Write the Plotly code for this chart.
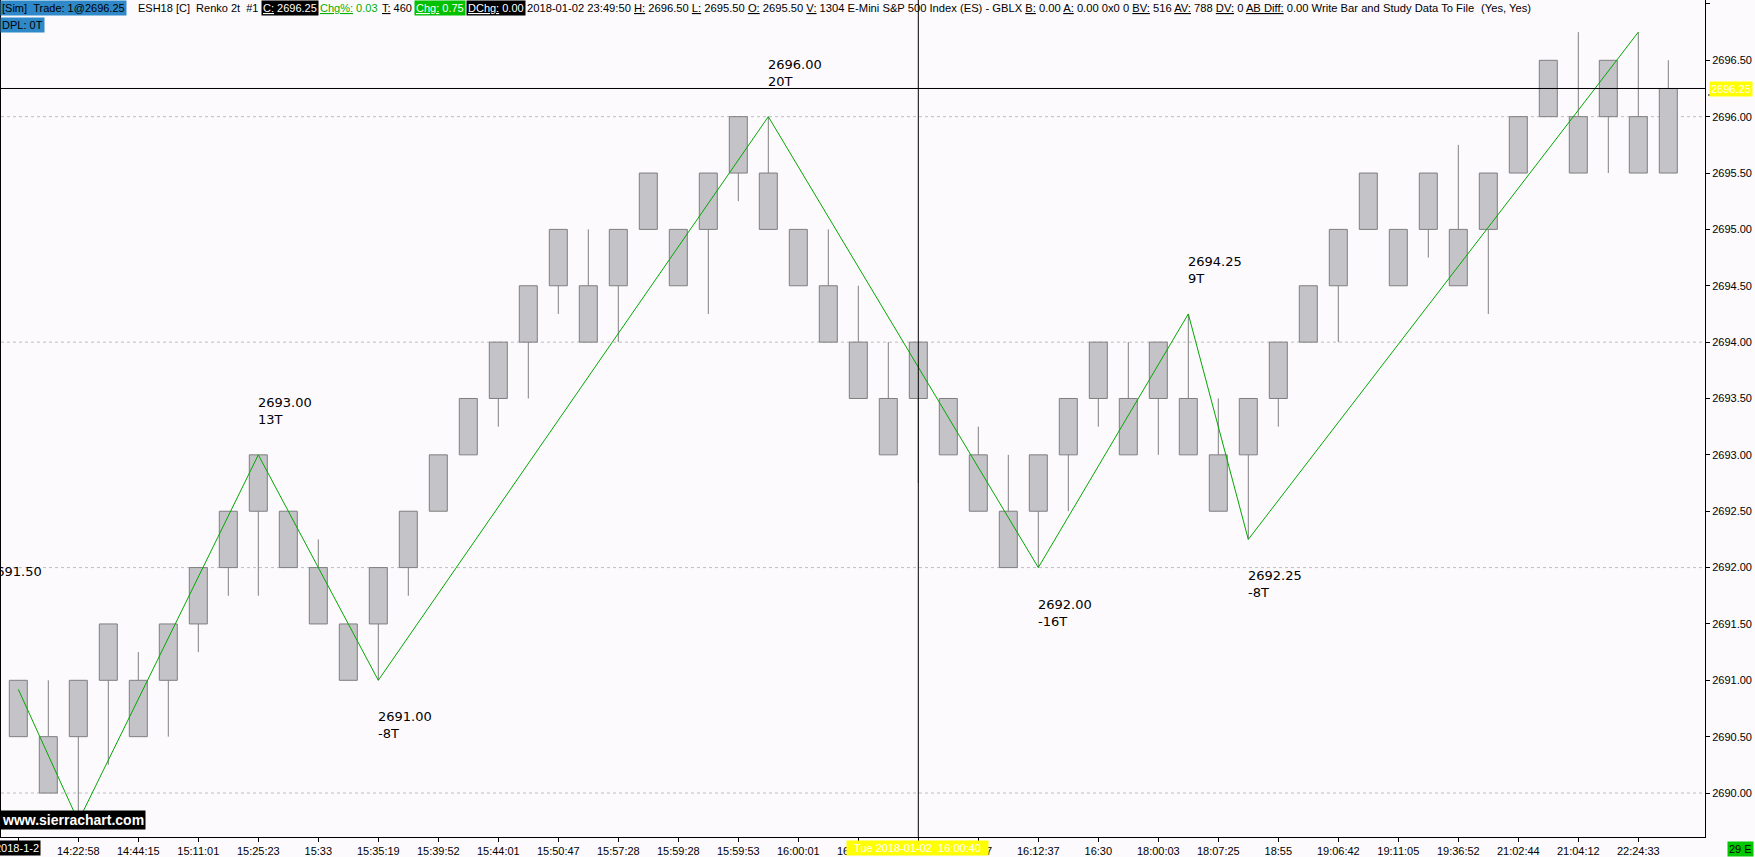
import plotly.graph_objects as go

# renko bars (box size 0.50) : box bottom / top, wick low / high
box_lo = [2690.5, 2690.0, 2690.5, 2691.0, 2690.5, 2691.0, 2691.5, 2692.0, 2692.5, 2692.0,
          2691.5, 2691.0, 2691.5, 2692.0, 2692.5, 2693.0, 2693.5, 2694.0, 2694.5, 2694.0,
          2694.5, 2695.0, 2694.5, 2695.0, 2695.5, 2695.0, 2694.5, 2694.0, 2693.5, 2693.0,
          2693.5, 2693.0, 2692.5, 2692.0, 2692.5, 2693.0, 2693.5, 2693.0, 2693.5, 2693.0,
          2692.5, 2693.0, 2693.5, 2694.0, 2694.5, 2695.0, 2694.5, 2695.0, 2694.5, 2695.0,
          2695.5, 2696.0, 2695.5, 2696.0, 2695.5, 2695.5]
box_hi = [2691.0, 2690.5, 2691.0, 2691.5, 2691.0, 2691.5, 2692.0, 2692.5, 2693.0, 2692.5,
          2692.0, 2691.5, 2692.0, 2692.5, 2693.0, 2693.5, 2694.0, 2694.5, 2695.0, 2694.5,
          2695.0, 2695.5, 2695.0, 2695.5, 2696.0, 2695.5, 2695.0, 2694.5, 2694.0, 2693.5,
          2694.0, 2693.5, 2693.0, 2692.5, 2693.0, 2693.5, 2694.0, 2693.5, 2694.0, 2693.5,
          2693.0, 2693.5, 2694.0, 2694.5, 2695.0, 2695.5, 2695.0, 2695.5, 2695.0, 2695.5,
          2696.0, 2696.5, 2696.0, 2696.5, 2696.0, 2696.25]
low = [2690.5, 2690.0, 2689.75, 2690.25, 2690.5, 2690.5, 2691.25, 2691.75, 2691.75, 2692.0,
       2691.5, 2691.0, 2691.0, 2691.75, 2692.5, 2693.0, 2693.25, 2693.5, 2694.25, 2694.0,
       2694.0, 2695.0, 2694.5, 2694.25, 2695.25, 2695.0, 2694.5, 2694.0, 2693.5, 2693.0,
       2692.75, 2693.0, 2692.5, 2692.0, 2692.0, 2692.5, 2693.25, 2693.0, 2693.0, 2693.0,
       2692.5, 2692.25, 2693.25, 2694.0, 2694.0, 2695.0, 2694.5, 2694.75, 2694.5, 2694.25,
       2695.5, 2696.0, 2695.5, 2695.5, 2695.5, 2695.5]
high = [2691.0, 2691.0, 2691.0, 2691.5, 2691.25, 2691.5, 2692.0, 2692.5, 2693.0, 2692.5,
        2692.25, 2691.5, 2692.0, 2692.5, 2693.0, 2693.5, 2694.0, 2694.5, 2695.0, 2695.0,
        2695.0, 2695.5, 2695.0, 2695.5, 2696.0, 2696.0, 2695.0, 2695.0, 2694.5, 2694.0,
        2694.0, 2693.5, 2693.25, 2693.0, 2693.0, 2693.5, 2694.0, 2694.0, 2694.0, 2694.25,
        2693.5, 2693.5, 2694.0, 2694.5, 2695.0, 2695.5, 2695.0, 2695.5, 2695.75, 2695.5,
        2696.0, 2696.5, 2696.75, 2696.5, 2696.75, 2696.5]

time_labels = ["", "14:22:58", "14:44:15", "15:11:01", "15:25:23", "15:33", "15:35:19",
               "15:39:52", "15:44:01", "15:50:47", "15:57:28", "15:59:28", "15:59:53",
               "16:00:01", "16:00:17", "16:00:40", "16:07", "16:12:37", "16:30",
               "18:00:03", "18:07:25", "18:55", "19:06:42", "19:11:05", "19:36:52",
               "21:02:44", "21:04:12", "22:24:33"]

# zigzag study
zz_bar = [0, 2, 8, 12, 25, 34, 39, 41, 54]
zz_price = [2690.92, 2689.75, 2693.00, 2691.00, 2696.00, 2692.00, 2694.25, 2692.25, 2696.75]
zz_ticks = [None, None, 13, -8, 20, -16, 9, -8, None]

grid_levels = [2690, 2692, 2694, 2696]
last_price = 2696.25
cursor_bar = 30

W, H = 1755, 857
L, R, T, B = 1, 50, 0, 20
PW, PH = W - L - R, H - T - B
BG = "#FDFAFD"
FONT = "Liberation Sans, Arial, sans-serif"
ZFONT = "DejaVu Sans, Verdana, sans-serif"
NB = "\u00a0"


def fx(p):
    return (p - L) / PW


def fy(p):
    return 1 - (p - T) / PH


bars = list(range(len(box_lo)))

fig = go.Figure()

# wicks
wx, wy = [], []
for i in bars:
    if low[i] < box_lo[i]:
        wx += [i, i, None]
        wy += [low[i], box_lo[i], None]
    if high[i] > box_hi[i]:
        wx += [i, i, None]
        wy += [box_hi[i], high[i], None]
fig.add_trace(go.Scatter(x=wx, y=wy, mode="lines", line=dict(color="#808080", width=1),
                         hoverinfo="skip", showlegend=False))

fig.add_trace(go.Bar(
    x=bars, y=[h - l for l, h in zip(box_lo, box_hi)], base=box_lo, width=0.6,
    marker=dict(color="#C4C3C7", line=dict(color="#7F7F7F", width=1)),
    hoverinfo="skip", showlegend=False,
))

fig.add_trace(go.Scatter(x=zz_bar, y=zz_price, mode="lines",
                         line=dict(color="#00A800", width=1),
                         hoverinfo="skip", showlegend=False))

shapes = []
for g in grid_levels:
    shapes.append(dict(type="line", xref="paper", x0=0, x1=1, yref="y", y0=g, y1=g,
                       line=dict(color="#BDBDBD", width=1, dash="dot"), layer="below"))
shapes.append(dict(type="line", xref="paper", x0=0, x1=1, yref="y", y0=last_price, y1=last_price,
                   line=dict(color="black", width=1)))
shapes.append(dict(type="line", xref="x", x0=cursor_bar, x1=cursor_bar, yref="paper", y0=0, y1=1,
                   line=dict(color="black", width=1)))

ann = []
# zigzag labels
for b, p, t in zip(zz_bar, zz_price, zz_ticks):
    if t is None:
        continue
    up = t > 0
    ann.append(dict(x=b, y=p, xref="x", yref="y", xanchor="left", xshift=-2,
                    yanchor="bottom" if up else "top", yshift=26 if up else -27,
                    text=f"{p:.2f}<br>{t}T", showarrow=False, align="left",
                    font=dict(family=ZFONT, size=13, color="black")))
ann.append(dict(x=fx(44), y=fy(562), xref="paper", yref="paper", xanchor="right", yanchor="top",
                text="2691.50", showarrow=False, font=dict(family=ZFONT, size=13, color="black")))


def label(x, y, text, bg=None, color="black", size=11, anchor="left", bold=False, family=FONT):
    if bold:
        text = f"<b>{text}</b>"
    ann.append(dict(x=fx(x), y=fy(y), xref="paper", yref="paper", xanchor=anchor, yanchor="top",
                    text=text, showarrow=False, bgcolor=bg, borderpad=1,
                    font=dict(family=family, size=size, color=color)))


# header
label(0, 0, f"[Sim]{NB}{NB}Trade: 1@2696.25", bg="#2F88C8")
label(136, 0, f"ESH18 [C]{NB}{NB}Renko 2t{NB}{NB}#1")
label(261, 0, "<u>C:</u> 2696.25", bg="black", color="white")
label(318, 0, "<u>Chg%:</u> 0.03", color="#00B000")
label(380, 0, "<u>T:</u> 460")
label(414, 0, "<u>Chg:</u> 0.75", bg="#00C000", color="white")
label(466, 0, "<u>DChg:</u> 0.00", bg="black", color="white")
label(525, 0, "2018-01-02 23:49:50 <u>H:</u> 2696.50 <u>L:</u> 2695.50 <u>O:</u> 2695.50 "
              "<u>V:</u> 1304 E-Mini S&P 500 Index (ES) - GBLX <u>B:</u> 0.00 <u>A:</u> 0.00 0x0 0 "
              "<u>BV:</u> 516 <u>AV:</u> 788 <u>DV:</u> 0 <u>AB Diff:</u> 0.00 "
              "Write Bar and Study Data To File", size=11.2)
label(1479, 0, "(Yes, Yes)", size=11.2)
label(0, 17, "DPL: 0T", bg="#2F88C8")

# watermark and axis flags
label(0, 810, "www.sierrachart.com", bg="black", color="white", size=14, bold=True)
label(41, 840, "2018-1-2", bg="black", color="white", anchor="right")
label(917, 840, f"{NB}{NB}Tue 2018-01-02{NB}{NB}16:00:40{NB}{NB}", bg="#FFFF00", color="white",
      anchor="center")
label(1709, 81, "2696.25", bg="#FFFF00", color="white")
label(1727, 841, "29 E", bg="#00C800", color="black")
shapes.append(dict(type="line", xref="paper", yref="paper", x0=fx(1708), x1=fx(1750),
                   y0=fy(95), y1=fy(95), line=dict(color="black", width=1)))

fig.update_layout(
    width=W, height=H,
    margin=dict(l=L, r=R, t=T, b=B, autoexpand=False),
    paper_bgcolor=BG, plot_bgcolor=BG,
    barmode="overlay",
    showlegend=False,
    shapes=shapes,
    annotations=ann,
    xaxis=dict(range=[-0.577, 56.223], tickmode="array", tickvals=list(range(0, 56, 2)),
               ticktext=time_labels, ticks="outside", ticklen=4, tickcolor="black",
               showgrid=False, zeroline=False, showline=True, linecolor="black",
               tickfont=dict(family=FONT, size=11, color="black"), fixedrange=True),
    yaxis=dict(range=[2689.61, 2697.035], side="right", tick0=2690, dtick=0.5,
               tickformat=".2f", ticks="outside", ticklen=4, tickcolor="black",
               showgrid=False, zeroline=False, showline=True, linecolor="black", mirror=True,
               tickfont=dict(family=FONT, size=11, color="black"), fixedrange=True),
)

fig.write_html("out.html", config={"displayModeBar": False},
               post_script="document.body.style.margin='0';document.body.style.background='%s';" % BG)
